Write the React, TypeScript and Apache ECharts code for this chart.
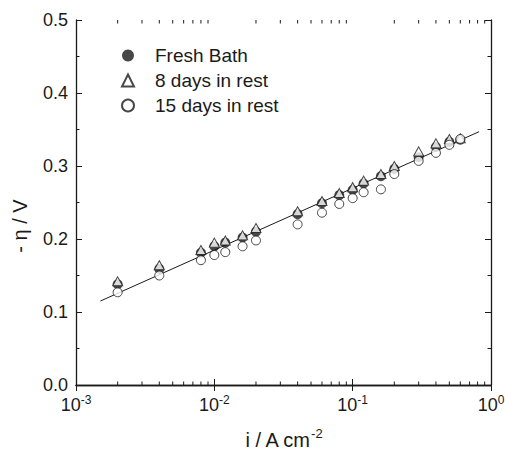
import React, { useEffect, useRef } from 'react';
import * as echarts from 'echarts';

const currents = [0.002, 0.004, 0.008, 0.01, 0.012, 0.016, 0.02, 0.04, 0.06, 0.08, 0.1, 0.12, 0.16, 0.2, 0.3, 0.4, 0.5, 0.6];
const freshBath = [0.138, 0.159, 0.181, 0.190, 0.195, 0.202, 0.210, 0.234, 0.249, 0.260, 0.267, 0.276, 0.286, 0.296, 0.312, 0.326, 0.333, 0.336];
const days8 = [0.142, 0.164, 0.185, 0.195, 0.198, 0.205, 0.215, 0.238, 0.252, 0.263, 0.271, 0.280, 0.289, 0.300, 0.320, 0.331, 0.337, 0.338];
const days15 = [0.127, 0.150, 0.171, 0.178, 0.182, 0.190, 0.198, 0.220, 0.236, 0.248, 0.256, 0.264, 0.268, 0.289, 0.307, 0.318, 0.329, 0.337];
const fitX = [0.0015, 0.82];
const fitY = [0.115, 0.347];
const xMinorTicks = [
  0.002, 0.003, 0.004, 0.005, 0.006, 0.007, 0.008, 0.009,
  0.02, 0.03, 0.04, 0.05, 0.06, 0.07, 0.08, 0.09,
  0.2, 0.3, 0.4, 0.5, 0.6, 0.7, 0.8, 0.9,
];
const seriesNames = ['Fresh Bath', '8 days in rest', '15 days in rest'];

const INK = '#1a1a1a';
const FONT = 'Liberation Sans, Arial, sans-serif';

export default function App() {
  const ref = useRef<HTMLDivElement>(null);
  useEffect(() => {
    if (!ref.current) return;
    const chart = echarts.init(ref.current, null, { renderer: 'svg' });
    const pair = (ys: number[]) => currents.map((x, i) => [x, ys[i]]);
    const tickLabel = (v: number) => `{b|10}{s|${Math.round(Math.log10(v))}}`;
    const option: any = {
      animation: false,
      backgroundColor: '#fff',
      textStyle: { fontFamily: FONT, color: INK },
      grid: { left: 76, right: 14, top: 20, bottom: 66, outerBoundsMode: 'none', containLabel: false },
      legend: {
        data: seriesNames,
        orient: 'vertical',
        left: 116,
        top: 41,
        itemWidth: 12,
        itemHeight: 12,
        itemGap: 6,
        textStyle: { fontSize: 19, color: INK, fontFamily: FONT, padding: [0, 0, 0, 16], lineHeight: 19 },
      },
      xAxis: [
        {
          type: 'log',
          logBase: 10,
          min: 0.001,
          max: 1,
          position: 'bottom',
          name: 'i / A cm{s|-2}',
          nameLocation: 'middle',
          nameGap: 42,
          nameTextStyle: {
            fontSize: 20,
            color: INK,
            fontFamily: FONT,
            rich: { s: { fontSize: 13, verticalAlign: 'top', padding: [0, 0, 12, 0], color: INK, fontFamily: FONT } },
          },
          axisLine: { show: true, lineStyle: { color: INK, width: 1.3 } },
          axisTick: { show: true, inside: true, length: 6, lineStyle: { color: INK, width: 1 } },
          axisLabel: {
            formatter: tickLabel,
            margin: 9,
            color: INK,
            rich: {
              b: { fontSize: 18, color: INK, fontFamily: FONT },
              s: { fontSize: 12, color: INK, fontFamily: FONT, verticalAlign: 'top', padding: [0, 0, 10, 0] },
            },
          },
          splitLine: { show: false },
        },
        {
          type: 'log',
          logBase: 10,
          min: 0.001,
          max: 1,
          position: 'top',
          axisLine: { show: true, lineStyle: { color: INK, width: 1.3 } },
          axisTick: { show: true, inside: true, length: 6, lineStyle: { color: INK, width: 1 } },
          axisLabel: { show: false },
          splitLine: { show: false },
        },
      ],
      yAxis: [
        {
          type: 'value',
          min: 0,
          max: 0.5,
          interval: 0.1,
          position: 'left',
          name: '- η / V',
          nameLocation: 'middle',
          nameGap: 46,
          nameTextStyle: { fontSize: 20, color: INK, fontFamily: FONT, padding: [0, 47, 0, 0] },
          axisLine: { show: true, lineStyle: { color: INK, width: 1.3 } },
          axisTick: { show: true, inside: true, length: 6, lineStyle: { color: INK, width: 1 } },
          minorTick: { show: true, splitNumber: 2, length: 3.5, lineStyle: { color: INK, width: 1 } },
          axisLabel: { formatter: (v: number) => v.toFixed(1), fontSize: 18, color: INK, margin: 8 },
          splitLine: { show: false },
          minorSplitLine: { show: false },
        },
        {
          type: 'value',
          min: 0,
          max: 0.5,
          interval: 0.1,
          position: 'right',
          axisLine: { show: true, lineStyle: { color: INK, width: 1.3 } },
          axisTick: { show: true, inside: true, length: 6, lineStyle: { color: INK, width: 1 } },
          minorTick: { show: true, splitNumber: 2, length: 3.5, lineStyle: { color: INK, width: 1 } },
          axisLabel: { show: false },
          splitLine: { show: false },
          minorSplitLine: { show: false },
        },
      ],
      series: [
        {
          name: 'fit',
          type: 'line',
          data: fitX.map((x, i) => [x, fitY[i]]),
          showSymbol: false,
          symbol: 'none',
          lineStyle: { color: INK, width: 1 },
          z: 1,
        },
        {
          name: 'minor ticks',
          type: 'custom',
          data: xMinorTicks.map((v) => [v, 0]),
          silent: true,
          clip: false,
          renderItem: (params: any, api: any) => {
            const pt = api.coord([api.value(0), 0]);
            const cs = params.coordSys;
            const bottom = cs.y + cs.height;
            return {
              type: 'group',
              children: [
                { type: 'line', shape: { x1: pt[0], y1: bottom, x2: pt[0], y2: bottom - 3.5 }, style: { stroke: INK, lineWidth: 1 } },
                { type: 'line', shape: { x1: pt[0], y1: cs.y, x2: pt[0], y2: cs.y + 3.5 }, style: { stroke: INK, lineWidth: 1 } },
              ],
            };
          },
          z: 1,
        },
        {
          name: seriesNames[0],
          type: 'scatter',
          data: pair(freshBath),
          symbol: 'circle',
          symbolSize: 10,
          itemStyle: { color: INK, borderColor: INK, borderWidth: 0 },
          z: 2,
        },
        {
          name: seriesNames[1],
          type: 'scatter',
          data: pair(days8),
          symbol: 'triangle',
          symbolSize: [10, 9],
          itemStyle: { color: '#fff', borderColor: INK, borderWidth: 1 },
          z: 3,
        },
        {
          name: seriesNames[2],
          type: 'scatter',
          data: pair(days15),
          symbol: 'circle',
          symbolSize: 9,
          itemStyle: { color: '#fff', borderColor: INK, borderWidth: 1 },
          z: 4,
        },
      ],
    };
    chart.setOption(option);
    return () => chart.dispose();
  }, []);
  return <div ref={ref} style={{ position: 'fixed', left: 0, top: 0, width: 505, height: 451 }} />;
}
